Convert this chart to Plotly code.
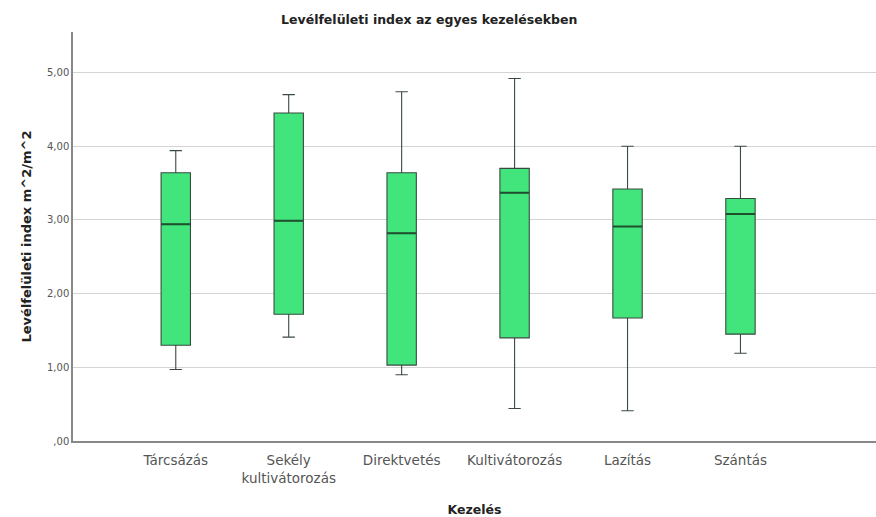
import plotly.graph_objects as go

# Treatments (x categories)
categories = ["Tárcsázás", "Sekély<br>kultivátorozás", "Direktvetés",
              "Kultivátorozás", "Lazítás", "Szántás"]

# Box statistics per treatment (leaf area index, m^2/m^2)
lower_whisker = [0.97, 1.41, 0.90, 0.44, 0.41, 1.19]
q1_values = [1.30, 1.72, 1.03, 1.40, 1.67, 1.45]
medians = [2.94, 2.99, 2.82, 3.37, 2.91, 3.08]
q3_values = [3.64, 4.45, 3.64, 3.70, 3.42, 3.29]
upper_whisker = [3.94, 4.70, 4.74, 4.92, 4.00, 4.00]

# Y-axis ticks
y_tickvals = [0, 1, 2, 3, 4, 5]
y_ticktext = [",00", "1,00", "2,00", "3,00", "4,00", "5,00"]

BOX_WIDTH = 0.26
FONT = "DejaVu Sans, Verdana, sans-serif"

fig = go.Figure()

# Boxes with whiskers
fig.add_trace(go.Box(
    x=categories,
    q1=q1_values,
    median=medians,
    q3=q3_values,
    lowerfence=lower_whisker,
    upperfence=upper_whisker,
    fillcolor="#41e57b",
    line=dict(color="#3b4a40", width=1.1),
    width=BOX_WIDTH,
    whiskerwidth=0.42,
    boxpoints=False,
    hoverinfo="skip",
    showlegend=False,
))

# Heavier median bars drawn on top
fig.add_trace(go.Box(
    x=categories,
    q1=medians,
    median=medians,
    q3=medians,
    lowerfence=medians,
    upperfence=medians,
    fillcolor="rgba(0,0,0,0)",
    line=dict(color="#1f4f2e", width=2),
    width=BOX_WIDTH,
    whiskerwidth=0,
    boxpoints=False,
    hoverinfo="skip",
    showlegend=False,
))

fig.update_layout(
    width=876, height=517,
    margin=dict(l=73, r=0, t=32, b=76),
    paper_bgcolor="white",
    plot_bgcolor="white",
    boxmode="overlay",
    font=dict(family=FONT, color="#333"),
    title=dict(
        text="<b>Levélfelületi index az egyes kezelésekben</b>",
        x=0.49, xanchor="center", y=0.962, yanchor="middle",
        font=dict(size=12.5, color="#222"),
    ),
)

fig.update_xaxes(
    type="category",
    range=[-0.91, 6.2],
    showgrid=False,
    showline=True, linecolor="#888", linewidth=1.5,
    ticks="outside", ticklen=6, tickcolor="rgba(0,0,0,0)",
    tickfont=dict(size=13.5, color="#555"),
    title=dict(text="<b>Kezelés</b>", font=dict(size=12.5, color="#222"), standoff=22),
)

fig.update_yaxes(
    range=[0, 5.55],
    tickvals=y_tickvals,
    ticktext=y_ticktext,
    showgrid=True, gridcolor="#d4d4d4", gridwidth=1,
    zeroline=False,
    showline=True, linecolor="#888", linewidth=1.5,
    ticks="",
    tickfont=dict(size=10, color="#555"),
    title=dict(text="<b>Levélfelületi index m^2/m^2</b>",
               font=dict(size=13, color="#222"), standoff=12),
)

fig.write_html("out.html")
